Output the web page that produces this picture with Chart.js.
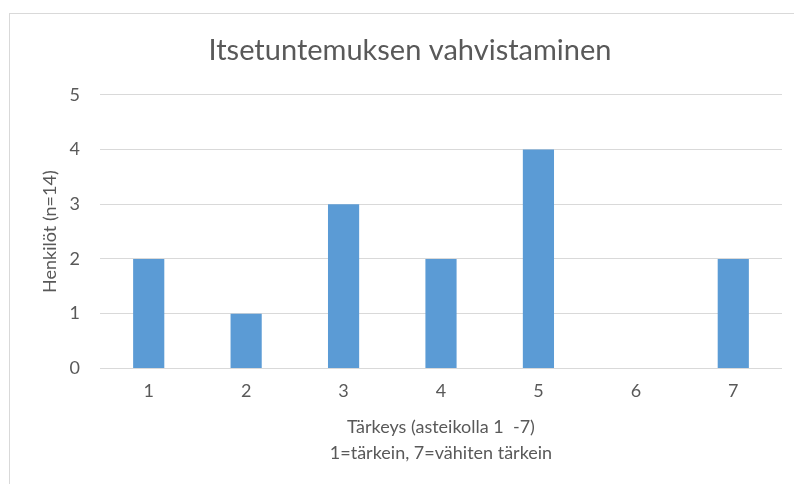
<!DOCTYPE html>
<html lang="fi">
<head>
    <meta charset="UTF-8">
    <title>Itsetuntemuksen vahvistaminen</title>
    <script src="https://cdn.jsdelivr.net/npm/chart.js"></script>
    <style>
        html, body {
            margin: 0;
            padding: 0;
            background: #ffffff;
            overflow: hidden;
        }
        .wrap {
            position: relative;
            width: 794px;
            height: 484px;
        }
        .frame {
            position: absolute;
            left: 9px;
            top: 13px;
            width: 900px;
            height: 600px;
            border: 1px solid #d9d9d9;
            pointer-events: none;
        }
    </style>
</head>
<body>
    <div class="wrap">
        <canvas id="chart" width="794" height="484"></canvas>
        <div class="frame"></div>
    </div>

    <script>
        const categories = ['1', '2', '3', '4', '5', '6', '7'];
        const persons = [2, 1, 3, 2, 4, 0, 2];
        const yTicks = [0, 1, 2, 3, 4, 5];

        const textColor = '#595959';
        const fontFamily = 'Lato, "Open Sans", sans-serif';

        new Chart(document.getElementById('chart'), {
            type: 'bar',
            data: {
                labels: categories,
                datasets: [{
                    label: 'Henkilöt',
                    data: persons,
                    backgroundColor: '#5b9bd5',
                    categoryPercentage: 1,
                    barPercentage: 0.32
                }]
            },
            options: {
                responsive: false,
                animation: false,
                layout: {
                    padding: { left: 38, right: 12, top: 0, bottom: 18 }
                },
                plugins: {
                    legend: { display: false },
                    tooltip: { enabled: false },
                    title: {
                        display: true,
                        text: 'Itsetuntemuksen vahvistaminen',
                        color: textColor,
                        font: { family: fontFamily, size: 29, weight: 'normal', lineHeight: 1.2 },
                        padding: { top: 33, bottom: 27 }
                    }
                },
                scales: {
                    x: {
                        grid: { display: false, drawTicks: false },
                        border: { display: false },
                        ticks: {
                            color: textColor,
                            font: { family: fontFamily, size: 18 },
                            padding: 12
                        },
                        title: {
                            display: true,
                            text: ['Tärkeys (asteikolla 1  -7)', '1=tärkein, 7=vähiten tärkein'],
                            color: textColor,
                            font: { family: fontFamily, size: 18, lineHeight: '26px' },
                            padding: { top: 0, bottom: 0 }
                        }
                    },
                    y: {
                        min: 0,
                        max: 5,
                        afterFit: (scale) => { scale.width = 62; },
                        afterBuildTicks: (scale) => {
                            scale.ticks = yTicks.map(v => ({ value: v }));
                        },
                        grid: {
                            color: '#d9d9d9',
                            lineWidth: 1,
                            drawTicks: false
                        },
                        border: { display: false },
                        ticks: {
                            color: textColor,
                            font: { family: fontFamily, size: 18 },
                            padding: 20
                        },
                        title: {
                            display: true,
                            text: 'Henkilöt (n=14)',
                            color: textColor,
                            font: { family: fontFamily, size: 18, lineHeight: 1.2 },
                            padding: { top: 1, bottom: 0 }
                        }
                    }
                }
            }
        });
    </script>
</body>
</html>
